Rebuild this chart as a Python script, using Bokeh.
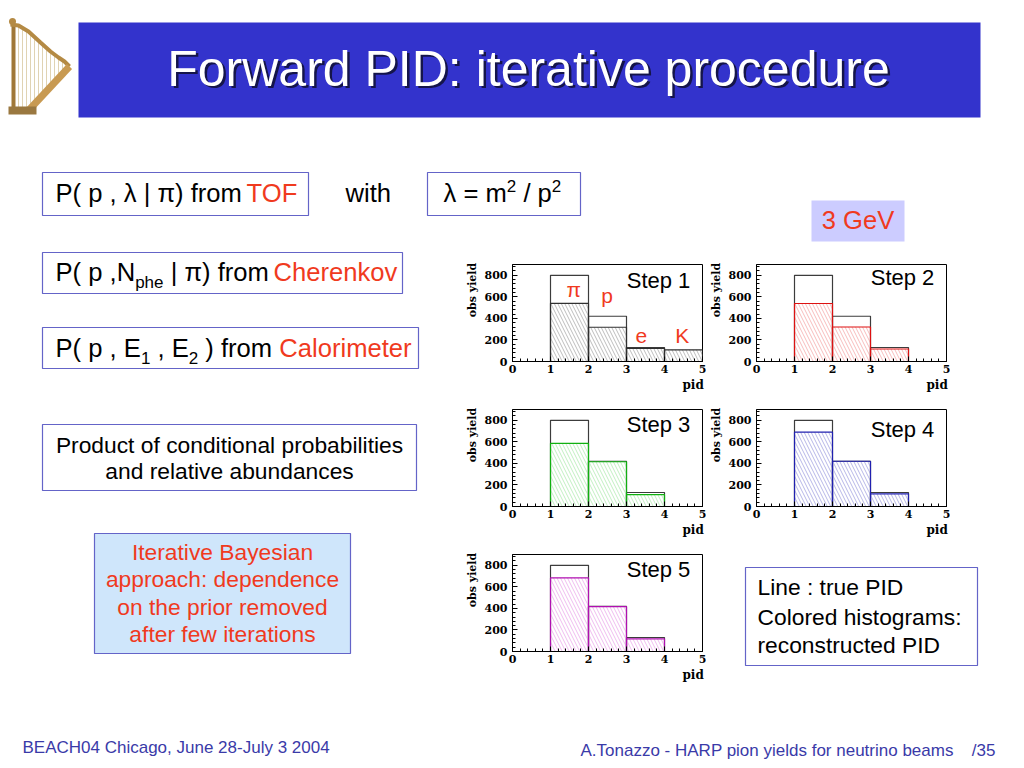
import numpy as np
from bokeh.plotting import figure
from bokeh.layouts import column, row
from bokeh.models import Range1d, Spacer, FixedTicker
from bokeh.core.properties import value
from bokeh.embed import file_html
from bokeh.resources import INLINE

# ---------------- data ----------------
pid_edges = [0, 1, 2, 3, 4, 5]
true_yield = [0, 800, 420, 130, 0]
reco_step1 = [0, 540, 318, 122, 108]
reco_step2 = [0, 538, 320, 116, 0]
reco_step3 = [0, 586, 415, 110, 0]
reco_step4 = [0, 690, 420, 117, 0]
reco_step5 = [0, 684, 416, 117, 0]
step_labels = ["Step 1", "Step 2", "Step 3", "Step 4", "Step 5"]
species_labels = ["π", "p", "e", "K"]
x_tick_values = [0, 1, 2, 3, 4, 5]
y_tick_values = [0, 200, 400, 600, 800]
x_axis_title = "pid"
y_axis_title = "obs yield"

# ---------------- styles ----------------
SANS = "Liberation Sans"
RED = "#f03a1e"
BOXLINE = "#6464c8"
NAVY = "#3a3aa8"
KB = 0.38          # baseline correction of the svg text renderer (em)
PX2DATA = 900.0 / 97.0
NBSP = "\u00a0"

AW = {' ': 278, '(': 333, ')': 333, ',': 278, '-': 333, '.': 278, '/': 278, ':': 278,
      '=': 584, '|': 260, 'π': 590, 'λ': 500}
for c in "0123456789":
    AW[c] = 556
AW.update(dict(A=667, B=667, C=722, D=722, E=667, F=611, G=778, H=722, I=278, J=500, K=667,
               L=556, M=833, N=722, O=778, P=667, R=722, S=667, T=611, U=722, V=667, W=944))
AW.update(dict(a=556, b=556, c=500, d=556, e=556, f=278, g=556, h=556, i=222, j=222, k=500,
               l=222, m=833, n=556, o=556, p=556, q=556, r=333, s=500, t=278, u=556, v=500,
               w=722, x=500, y=500, z=500))


def tw(s, size):
    return sum(AW.get(c, 556) for c in s) / 1000.0 * size


def txt(p, x, y, s, size, color="black", align="left", font=SANS):
    p.text(x=[x], y=[y - KB * size], text=[s], text_font=value(font),
           text_font_size=f"{size}px", text_color=color, text_align=align,
           text_baseline="alphabetic")


def runs(p, x, y, parts):
    for s, size, color, dy in parts:
        stripped = s.lstrip(' ')
        lead = tw(s[:len(s) - len(stripped)], size)
        body = stripped.rstrip(' ')
        if body:
            txt(p, x + lead, y + dy, body, size, color)
        x += tw(s, size)


def box(p, l, r, t, b, fill=None, line=BOXLINE):
    p.quad(left=[l], right=[r], top=[t], bottom=[b],
           fill_color=fill if fill else "white", fill_alpha=1 if fill else 0,
           line_color=line, line_width=1.2)


def tile(x0, x1, y0, y1):
    p = figure(width=x1 - x0, height=y1 - y0, x_range=Range1d(x0, x1), y_range=Range1d(y1, y0),
               x_axis_location=None, y_axis_location=None, output_backend="svg",
               toolbar_location=None, min_border=0)
    p.grid.visible = False
    p.outline_line_color = None
    return p


M1 = 25.6   # 18pt
M2 = 22.8   # 16pt
SUB = 17

# ---------------- top tile: harp, title, first row ----------------
T = tile(0, 1016, 0, 250)
# harp
neck_x = [10, 18, 28, 40, 50, 58, 64, 69]
neck_y = [24, 25, 31, 42, 51, 57, 61, 66]
for sx in range(18, 66, 4):
    ny = float(np.interp(sx, neck_x, neck_y))
    sy = 110 - (sx - 28) * (44.0 / 41.0) if sx > 28 else 110
    T.line([sx, sx], [ny, sy], line_color="#d8c8a0", line_width=0.8)
T.line([13, 13], [24, 110], line_color="#a07838", line_width=4)
T.line(neck_x, neck_y, line_color="#b48a44", line_width=4)
T.line([28, 69], [110, 66], line_color="#c89a52", line_width=7)
T.quad(left=[8], right=[36], top=[106], bottom=[114], fill_color="#9a7840", line_color=None)
T.scatter([12], [21], size=7, fill_color="#b48a44", line_color=None)

# title bar
T.quad(left=[78], right=[980], top=[22], bottom=[117], fill_color="#3333cc", line_color=None)
title = "Forward PID: iterative procedure"
txt(T, 530.5, 89.5, title, 50, color="#15154a", align="center")
txt(T, 528, 87, title, 50, color="white", align="center")

# first row boxes
box(T, 42, 308, 172, 215)
runs(T, 55, 202, [("P( p , λ | π) from ", M1, "black", 0), ("TOF", M1, RED, 0)])
txt(T, 345, 202, "with", M1)
box(T, 427, 580, 172, 215)
runs(T, 443, 202, [("λ = m", M1, "black", 0), ("2", SUB, "black", -10),
                   (" / p", M1, "black", 0), ("2", SUB, "black", -10)])
# 3 GeV
T.quad(left=[811], right=[904], top=[200], bottom=[241], fill_color="#ccccff", line_color=None)
txt(T, 857.5, 229.5, "3 GeV", M1, color=RED, align="center")

# ---------------- left tile ----------------
L = tile(0, 462, 250, 700)
box(L, 42, 402, 252, 293)
runs(L, 55, 281, [("P( p ,N", M1, "black", 0), ("phe", SUB, "black", 7),
                  (" | π) from ", M1, "black", 0), ("Cherenkov", M1, RED, 0)])
box(L, 42, 418, 327, 368)
runs(L, 55, 357, [("P( p , E", M1, "black", 0), ("1", SUB, "black", 7),
                  (" , E", M1, "black", 0), ("2", SUB, "black", 7),
                  (" ) from ", M1, "black", 0), ("Calorimeter", M1, RED, 0)])
box(L, 42, 416, 424, 490)
txt(L, 229, 453, "Product of conditional probabilities", M2, align="center")
txt(L, 229, 479, "and relative abundances", M2, align="center")
box(L, 94, 350, 533, 653, fill="#cfe6fb")
for i, s in enumerate(["Iterative Bayesian", "approach: dependence",
                       "on the prior removed", "after few iterations"]):
    txt(L, 222, 560 + 27.5 * i, s, M2, color=RED, align="center")

# ---------------- right-bottom tile ----------------
Rb = tile(706, 1016, 540, 700)
box(Rb, 745, 977, 567, 665)
txt(Rb, 757, 595, "Line : true PID", M2)
txt(Rb, 757, 625, "Colored histograms:", M2)
txt(Rb, 757, 653, "reconstructed PID", M2)

# ---------------- bottom tile ----------------
B = tile(0, 1016, 700, 760)
txt(B, 22, 753, "BEACH04 Chicago, June 28-July 3 2004", 17, color=NAVY)
txt(B, 580, 756, "A.Tonazzo - HARP pion yields for neutrino beams", 17, color=NAVY)
txt(B, 995, 756, "/35", 17, color=NAVY, align="right")


# ---------------- histogram panels ----------------
def panel(idx, reco, line_col, hatch_col, label_y):
    p = figure(width=244, height=145, x_range=Range1d(0, 5), y_range=Range1d(0, 900),
               output_backend="svg", toolbar_location=None,
               min_border_left=50, min_border_right=4, min_border_top=14, min_border_bottom=34)
    p.grid.visible = False
    p.outline_line_color = "black"
    p.outline_line_alpha = 1
    p.xaxis.ticker = FixedTicker(ticks=x_tick_values,
                                 minor_ticks=[v / 5 for v in range(0, 26)])
    p.yaxis.ticker = FixedTicker(ticks=y_tick_values,
                                 minor_ticks=[v * 40 for v in range(0, 23)])
    for ax in (p.xaxis[0], p.yaxis[0]):
        ax.major_tick_in = 5
        ax.major_tick_out = 0
        ax.minor_tick_in = 3
        ax.minor_tick_out = 0
        ax.axis_line_color = "black"
        ax.major_tick_line_color = "black"
        ax.minor_tick_line_color = "black"
        ax.major_label_text_font = "DejaVu Serif"
        ax.major_label_text_font_style = "bold"
        ax.major_label_text_font_size = "11px"
        ax.major_label_text_color = "black"
        ax.axis_label_text_font = "DejaVu Serif"
        ax.axis_label_text_font_style = "bold"
        ax.axis_label_text_color = "black"
    p.xaxis.major_label_standoff = 3
    p.yaxis.major_label_standoff = 5
    # ROOT puts the axis titles at the axis ends: shift them there with leading padding
    p.xaxis.axis_label = NBSP * 41 + x_axis_title
    p.xaxis.axis_label_text_font_size = "12px"
    p.xaxis.axis_label_standoff = 2
    p.yaxis.axis_label = NBSP * 12 + y_axis_title
    p.yaxis.axis_label_text_font_size = "11px"
    p.yaxis.axis_label_standoff = 3

    left = pid_edges[:-1]
    right = pid_edges[1:]
    p.quad(left=left, right=right, bottom=0, top=true_yield,
           fill_alpha=0, line_color="#3c3c3c", line_width=1.2)
    p.quad(left=left, right=right, bottom=0, top=reco,
           fill_alpha=0, hatch_pattern="\\", hatch_color=hatch_col, hatch_scale=7,
           hatch_weight=0.7, line_color=line_col, line_width=1.2)
    p.text(x=[4.68], y=[label_y + KB * 22 * PX2DATA], text=[step_labels[idx]],
           text_font=value(SANS), text_font_size="22px", text_align="right",
           text_baseline="alphabetic", text_color="black")
    return p


P1 = panel(0, reco_step1, "#303030", "#a0a0a0", 677)
sp_y = [594, 538, 167, 167]
P1.text(x=[1.61, 2.49, 3.39, 4.47], y=[v + KB * 21 * PX2DATA for v in sp_y],
        text=species_labels, text_font=value(SANS), text_font_size="21px", text_color=RED,
        text_align="center", text_baseline="alphabetic")
P2 = panel(1, reco_step2, "#dd1111", "#f4a0a0", 700)
P3 = panel(2, reco_step3, "#10b010", "#a8e8a8", 687)
P4 = panel(3, reco_step4, "#2020b0", "#9898dc", 640)
P5 = panel(4, reco_step5, "#b010b0", "#e8a0e8", 687)

mid_col = column(P1, P3, P5, Spacer(width=244, height=15))
right_col = column(row(P2, Spacer(width=66, height=145)),
                   row(P4, Spacer(width=66, height=145)), Rb)
layout = column(T, row(L, mid_col, right_col), B)

open("out.html", "w").write(file_html(layout, INLINE))
